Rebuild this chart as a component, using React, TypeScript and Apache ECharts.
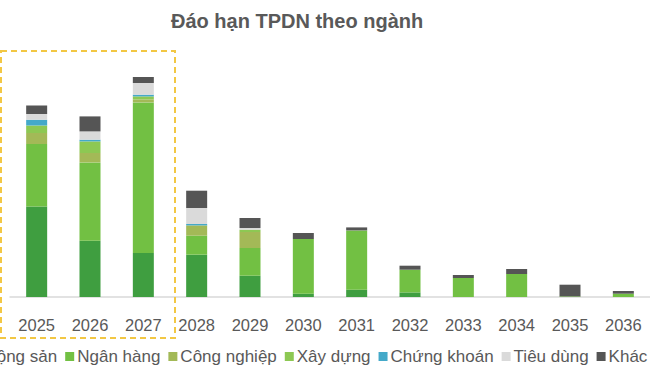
import React, { useEffect, useRef } from "react";
import * as echarts from "echarts";

const years = ["2025", "2026", "2027", "2028", "2029", "2030", "2031", "2032", "2033", "2034", "2035", "2036"];
const batDongSan = [90.6, 56.3, 44, 42.3, 21.3, 3.3, 7.3, 4.6, 0, 0, 0, 0];
const nganHang = [62.4, 78.3, 150.6, 19, 27.7, 54.7, 59.3, 22.7, 19, 23, 0.6, 3.3];
const congNghiep = [11, 9.4, 3, 10.3, 16, 0, 0, 0, 0, 0, 0, 0];
const xayDung = [7.6, 11.6, 3, 0, 2.3, 0, 0, 0, 0, 0, 0, 0];
const chungKhoan = [5.7, 1.7, 1.7, 1.4, 0, 0, 0, 0, 0, 0, 0, 0];
const tieuDung = [5.7, 8.3, 11.7, 16, 1.7, 0, 0, 0, 0, 0, 0, 0];
const khac = [8.6, 15, 6, 17.3, 10, 6, 3, 4, 3, 5, 11.7, 2.7];

const seriesNames = ["Bất động sản", "Ngân hàng", "Công nghiệp", "Xây dựng", "Chứng khoán", "Tiêu dùng", "Khác"];
const seriesData = [batDongSan, nganHang, congNghiep, xayDung, chungKhoan, tieuDung, khac];
const seriesColors = ["#3f9e40", "#72c043", "#a3b957", "#8dc853", "#44a9c9", "#dadada", "#555555"];

const FONT = 'Arial, "Liberation Sans", sans-serif';

export default function App() {
  const ref = useRef<HTMLDivElement>(null);
  useEffect(() => {
    if (!ref.current) return;
    const chart = echarts.init(ref.current, undefined, { renderer: "svg" });
    chart.setOption({
      animation: false,
      backgroundColor: "#ffffff",
      title: {
        text: "Đáo hạn TPDN theo ngành",
        left: 166,
        top: 6,
        textStyle: { fontFamily: FONT, fontSize: 20, fontWeight: "bold", color: "#595959" },
      },
      legend: {
        data: seriesNames,
        left: -60,
        top: 343,
        width: 900,
        itemWidth: 9,
        itemHeight: 9,
        itemGap: 8,
        icon: "rect",
        textStyle: { fontFamily: FONT, fontSize: 17, color: "#595959", padding: [0, 0, 0, -2] },
      },
      grid: { left: 10, top: 47, width: 641, height: 250 },
      xAxis: {
        type: "category",
        data: years,
        axisLine: { lineStyle: { color: "#d9d9d9", width: 1.5 } },
        axisTick: { show: false },
        axisLabel: { fontFamily: FONT, fontSize: 16.5, color: "#595959", margin: 19 },
      },
      yAxis: { type: "value", min: 0, max: 250, show: false, splitLine: { show: false } },
      series: seriesNames.map((name, i) => ({
        name,
        type: "bar",
        stack: "total",
        barWidth: 21,
        data: seriesData[i],
        itemStyle: { color: seriesColors[i] },
      })),
      graphic: [
        {
          type: "rect",
          shape: { x: 1, y: 51, width: 174, height: 287 },
          style: { fill: "none", stroke: "#f2c744", lineWidth: 2, lineDash: [6, 4] },
          z: 100,
        },
      ],
    });
    return () => chart.dispose();
  }, []);
  return <div ref={ref} style={{ position: "fixed", left: 0, top: 0, width: 650, height: 366 }} />;
}
